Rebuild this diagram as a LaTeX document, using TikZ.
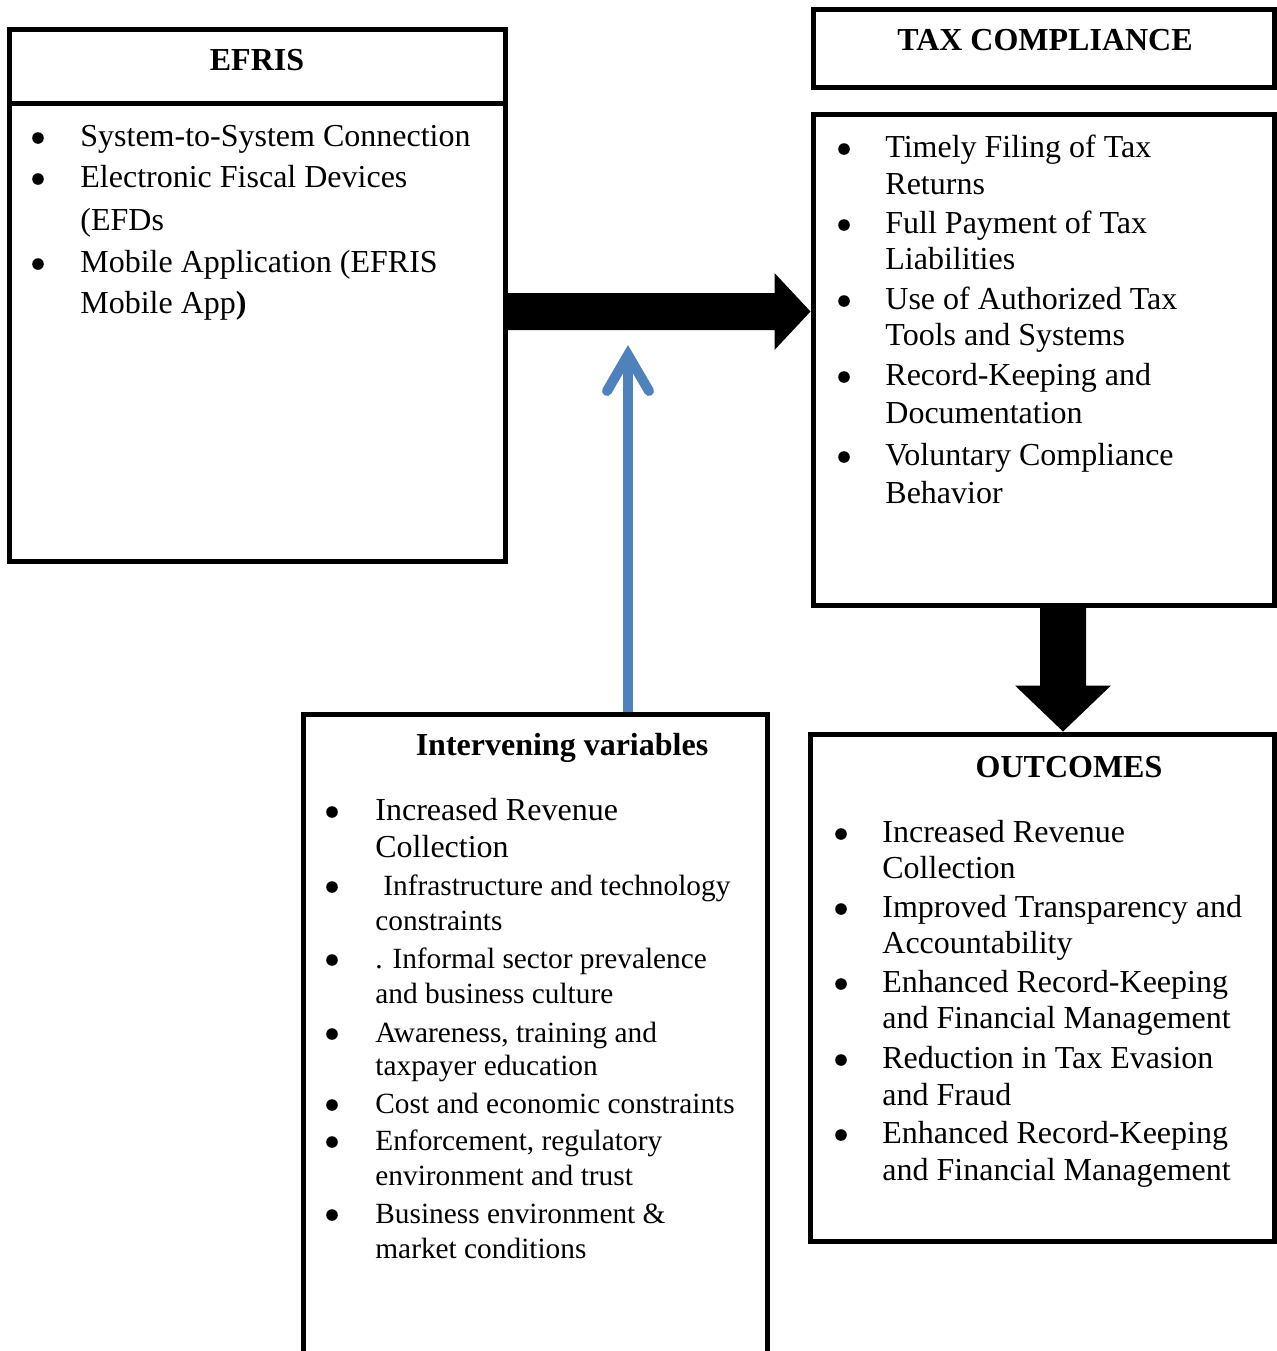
\documentclass[tikz,border=0pt]{standalone}
\usepackage{fontspec}
\setmainfont{Liberation Serif}
\usetikzlibrary{fit,calc}
\definecolor{arrowblue}{RGB}{79,129,189}
\tikzset{
  box/.style={draw=black, line width=2.5pt, inner sep=0pt},
  itemtext/.style={anchor=base west, inner sep=0pt, font=\fontsize{16pt}{19pt}\selectfont},
  smalltext/.style={anchor=base west, inner sep=0pt, font=\fontsize{14.67pt}{17.5pt}\selectfont},
  headtext/.style={anchor=base, inner sep=0pt, font=\fontsize{16pt}{19pt}\selectfont\bfseries},
  bulletdot/.style={fill=black},
  fatarrow/.style={fill=black},
  bluearrow/.style={draw=arrowblue, line width=5pt}
}
\begin{document}
\begin{tikzpicture}[x=0.5pt,y=-0.5pt]
\useasboundingbox (0,0) rectangle (1277,1351);
\clip (0,0) rectangle (1277,1351);
\fill[white] (0,0) rectangle (1277,1351);

% boxes
\node[box, fit={(9,29) (505,103)}] (eh) {};
\node[box, fit={(9,103) (505,561)}] (eb) {};
\node[box, fit={(813,9) (1274,87)}] (th) {};
\node[box, fit={(813,114) (1274,605)}] (tb) {};
\node[box, fit={(303,714) (767,1420)}] (ib) {};
\node[box, fit={(810,734) (1274,1241)}] (ob) {};

% headings
\node[headtext] (ehT) at (257,70) {EFRIS};
\node[headtext] (thT) at (1045,50) {TAX COMPLIANCE};
\node[headtext] (ibT) at (562,755) {Intervening variables};
\node[headtext] (obT) at (1069,777) {OUTCOMES};

% EFRIS items
\node[itemtext] (e1) at (80,146) {System-to-System Connection};
\node[itemtext] (e2) at (80,187) {Electronic Fiscal Devices};
\node[itemtext] (e3) at (80,230) {(EFDs};
\node[itemtext] (e4) at (80,272) {Mobile Application (EFRIS};
\node[itemtext] (e5) at (80,313) {Mobile App\textbf{)}};
\foreach \yy in {146,187,272} \fill[bulletdot] (38,\yy-8) circle (5.8);

% Tax compliance items
\node[itemtext] (t1) at (885,157) {Timely Filing of Tax};
\node[itemtext] (t2) at (885,194) {Returns};
\node[itemtext] (t3) at (885,233) {Full Payment of Tax};
\node[itemtext] (t4) at (885,269) {Liabilities};
\node[itemtext] (t5) at (885,309) {Use of Authorized Tax};
\node[itemtext] (t6) at (885,345) {Tools and Systems};
\node[itemtext] (t7) at (885,385) {Record-Keeping and};
\node[itemtext] (t8) at (885,423) {Documentation};
\node[itemtext] (t9) at (885,465) {Voluntary Compliance};
\node[itemtext] (t10) at (885,503) {Behavior};
\foreach \yy in {157,233,309,385,465} \fill[bulletdot] (844,\yy-8) circle (5.8);

% Outcomes items
\node[itemtext] (o1) at (882,842) {Increased Revenue};
\node[itemtext] (o2) at (882,878) {Collection};
\node[itemtext] (o3) at (882,917) {Improved Transparency and};
\node[itemtext] (o4) at (882,953) {Accountability};
\node[itemtext] (o5) at (882,992) {Enhanced Record-Keeping};
\node[itemtext] (o6) at (882,1028) {and Financial Management};
\node[itemtext] (o7) at (882,1068) {Reduction in Tax Evasion};
\node[itemtext] (o8) at (882,1105) {and Fraud};
\node[itemtext] (o9) at (882,1143) {Enhanced Record-Keeping};
\node[itemtext] (o10) at (882,1180) {and Financial Management};
\foreach \yy in {842,917,992,1068,1143} \fill[bulletdot] (841,\yy-8) circle (5.8);

% Intervening items
\node[itemtext] (v1) at (375,820) {Increased Revenue};
\node[itemtext] (v2) at (375,857) {Collection};
\node[smalltext] (v3) at (383,895) {Infrastructure and technology};
\node[smalltext] (v4) at (375,930) {constraints};
\node[smalltext] (v5) at (375,968) {. Informal sector prevalence};
\node[smalltext] (v6) at (375,1003) {and business culture};
\node[smalltext] (v7) at (375,1042) {Awareness, training and};
\node[smalltext] (v8) at (375,1075) {taxpayer education};
\node[smalltext] (v9) at (375,1113) {Cost and economic constraints};
\node[smalltext] (v10) at (375,1150) {Enforcement, regulatory};
\node[smalltext] (v11) at (375,1185) {environment and trust};
\node[smalltext] (v12) at (375,1223) {Business environment \&};
\node[smalltext] (v13) at (375,1258) {market conditions};
\foreach \yy in {820,895,968,1042,1113,1150,1223} \fill[bulletdot] (332,\yy-8) circle (5.8);

% fat black arrow EFRIS -> Tax compliance
\coordinate (rs) at (eb.east |- 0,311.5);
\coordinate (rt) at (tb.west |- 0,311.5);
\fill[fatarrow] ($(rs)+(0,-18.5)$) -- ($(rt)+(-36,-18.5)$) -- ($(rt)+(-36,-38.5)$) -- (rt)
  -- ($(rt)+(-36,38.5)$) -- ($(rt)+(-36,18.5)$) -- ($(rs)+(0,18.5)$) -- cycle;

% fat black arrow Tax compliance -> Outcomes
\coordinate (ds) at (tb.south -| 1063,0);
\coordinate (dt) at (ob.north -| 1063,0);
\fill[fatarrow] ($(ds)+(-23,0)$) -- ($(dt)+(-23,-46)$) -- ($(dt)+(-48,-46)$) -- (dt)
  -- ($(dt)+(48,-46)$) -- ($(dt)+(23,-46)$) -- ($(ds)+(23,0)$) -- cycle;

% blue arrow from intervening variables up to the main arrow
\coordinate (bs) at (ib.north -| 628,0);
\coordinate (bt) at (628,355);
\draw[bluearrow] (bs) -- (bt);
\draw[bluearrow, line cap=round, miter limit=10] ($(bt)+(-21,36)$) -- (bt) -- ($(bt)+(21,36)$);
\end{tikzpicture}
\end{document}
